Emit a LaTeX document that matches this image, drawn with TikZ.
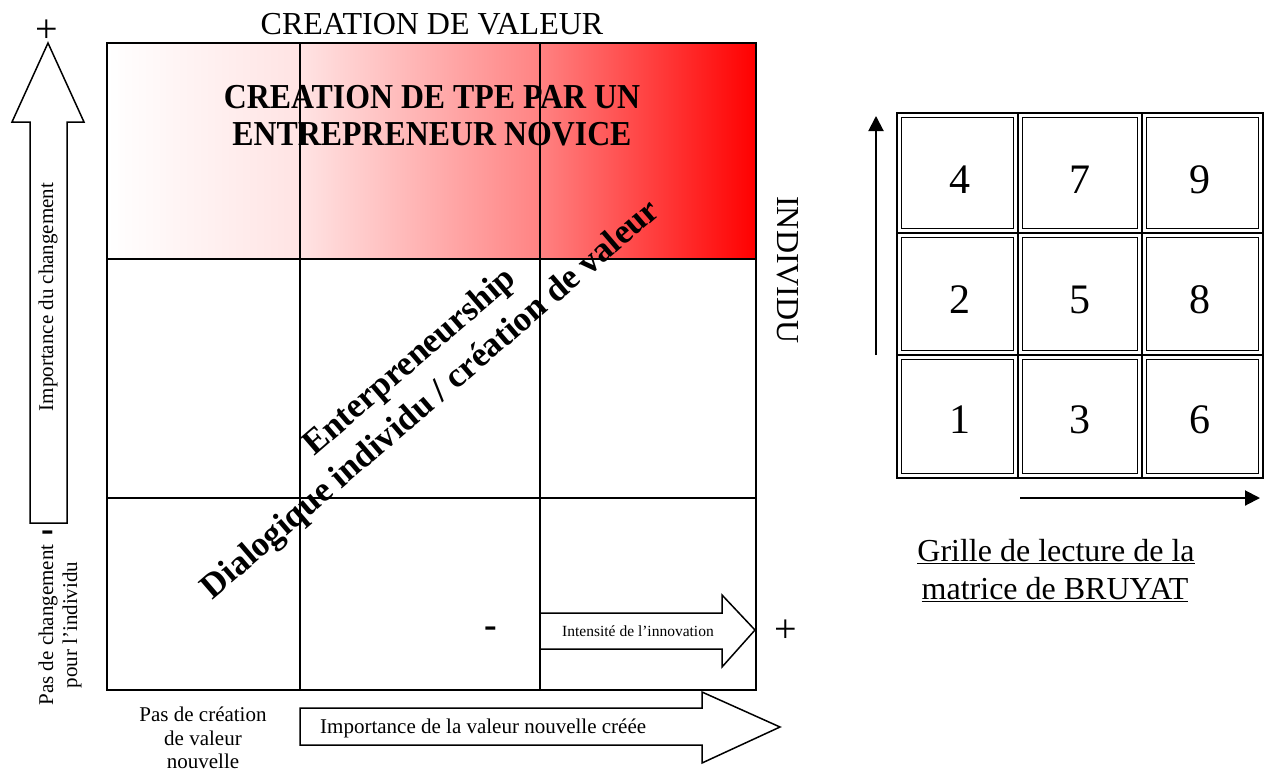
\documentclass[tikz,border=0pt]{standalone}
\usepackage{fontspec}
\setmainfont{Liberation Serif}
\usetikzlibrary{arrows.meta}
\pgfdeclarehorizontalshading{redgrad}{100bp}{color(0bp)=(white); color(25bp)=(white); color(40bp)=(red!11!white); color(58bp)=(red!48!white); color(75bp)=(red); color(100bp)=(red)}
\tikzset{
  gridline/.style={line width=1.7pt, draw=black},
  blockarrow/.style={line width=1.5pt, draw=black, fill=white, line join=miter},
  cellbox/.style={line width=1.9pt, draw=black},
  txtbig/.style={font=\fontsize{32}{36}\selectfont, inner sep=0pt},
  txttitle/.style={font=\fontsize{35}{40}\selectfont\bfseries, inner sep=0pt, xscale=0.91, anchor=base},
  txtsign/.style={font=\fontsize{40}{44}\selectfont, inner sep=0pt},
  txtdash/.style={font=\fontsize{38}{44}\selectfont\bfseries, inner sep=0pt},
  txtdiag/.style={font=\fontsize{35}{40}\selectfont\bfseries, inner sep=0pt, rotate=40.7, anchor=base},
  txtmid/.style={font=\fontsize{21}{24}\selectfont, inner sep=0pt},
  txtsmall/.style={font=\fontsize{15.5}{18}\selectfont, inner sep=0pt},
  txtdigit/.style={font=\fontsize{42}{48}\selectfont, inner sep=0pt},
  thinarrow/.style={line width=2pt, -{Triangle[length=15pt,width=15pt]}},
}
\begin{document}
\begin{tikzpicture}[x=1pt,y=-1pt]
\useasboundingbox (0,0) rectangle (1266,772);

% ---- main matrix ----
\shade[shading=redgrad] (107,43) rectangle (756,259);
\draw[gridline] (107,43) rectangle (756,690);
\draw[gridline] (300,43) -- (300,690);
\draw[gridline] (540,43) -- (540,690);
\draw[gridline] (107,259) -- (756,259);
\draw[gridline] (107,498) -- (756,498);

\node[txtbig, anchor=base] (title) at (432,34) {CREATION DE VALEUR};
\node[txttitle] (tpe1) at (432,108) {CREATION DE TPE PAR UN};
\node[txttitle] (tpe2) at (432,145) {ENTREPRENEUR NOVICE};

\node[txtdiag] (diag1) at (416,369) {Enterpreneurship};
\node[txtdiag] (diag2) at (437,407) {Dialogique individu / création de valeur};

\node[txtbig, rotate=-90] (indiv) at (788,270) {INDIVIDU};

% ---- left vertical block arrow ----
\draw[blockarrow] (30,523) -- (30,122) -- (12,122) -- (48,43) -- (84,122) -- (67,122) -- (67,523) -- cycle;
\node[txtsign] (plusL) at (47,31) {+};
\node[txtmid, rotate=90] (imp) at (48,297) {Importance du changement};
\node[txtdash] (minusL) at (48,536) {-};
\node[txtmid, rotate=90, anchor=base] (pasch1) at (53,625) {Pas de changement};
\node[txtmid, rotate=90, anchor=base] (pasch2) at (77,625) {pour l’individu};

% ---- bottom block arrow ----
\draw[blockarrow] (300,708) -- (702,708) -- (702,692) -- (780,727) -- (702,763) -- (702,745) -- (300,745) -- cycle;
\node[txtmid, anchor=west] (impval) at (320,728) {Importance de la valeur nouvelle créée};
\node[txtmid, anchor=base] (pascr1) at (203,721) {Pas de création};
\node[txtmid, anchor=base] (pascr2) at (203,745) {de valeur};
\node[txtmid, anchor=base] (pascr3) at (203,768) {nouvelle};

% ---- innovation arrow ----
\draw[blockarrow] (540,613) -- (722,613) -- (722,595) -- (755,630) -- (722,667) -- (722,649) -- (540,649) -- cycle;
\node[txtsmall] (innov) at (638,631) {Intensité de l’innovation};
\node[txtdash] (minusB) at (491,632) {-};
\node[txtsign] (plusB) at (786,631) {+};

% ---- reading grid ----
\foreach \xa/\xb in {897/1018,1018/1142,1142/1263}{
  \foreach \ya/\yb in {113/233,233/355,355/478}{
    \draw[cellbox] (\xa,\ya) rectangle (\xb,\yb);
    \draw[cellbox] (\xa+4.5,\ya+4.5) rectangle (\xb-4.5,\yb-4.5);
  }
}
\node[txtdigit] (n4) at (960,180) {4};
\node[txtdigit] (n7) at (1080,180) {7};
\node[txtdigit] (n9) at (1200,180) {9};
\node[txtdigit] (n2) at (960,300) {2};
\node[txtdigit] (n5) at (1080,300) {5};
\node[txtdigit] (n8) at (1200,300) {8};
\node[txtdigit] (n1) at (960,420) {1};
\node[txtdigit] (n3) at (1080,420) {3};
\node[txtdigit] (n6) at (1200,420) {6};

\coordinate (va) at (876,355);
\coordinate (vb) at (876,116);
\coordinate (ha) at (1020,498);
\coordinate (hb) at (1260,498);
\draw[thinarrow] (va) -- (vb);
\draw[thinarrow] (ha) -- (hb);

\node[txtbig, anchor=base] (gr1) at (1056,561) {\underline{Grille de lecture de la}};
\node[txtbig, anchor=base] (gr2) at (1055,599) {\underline{matrice de BRUYAT}};
\end{tikzpicture}
\end{document}
